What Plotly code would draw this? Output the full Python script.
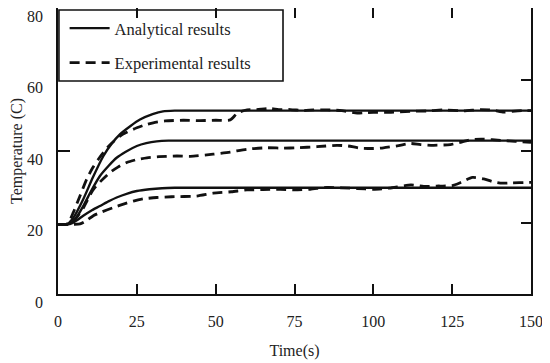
import plotly.graph_objects as go

# ---- data ----
t_an_top = [0, 3, 5, 8, 11, 14.4, 17, 19.7, 23, 26, 30, 33.3, 37, 150]
T_an_top = [19.5, 19.6, 21.5, 26.5, 32.5, 38.6, 42, 44.7, 47, 48.8, 50.3, 51.1, 51.3, 51.3]

t_an_mid = [0, 3.5, 5.5, 8, 10.5, 13.3, 16, 18.6, 21.5, 25, 28, 31.3, 35, 150]
T_an_mid = [19.5, 19.6, 21, 24.6, 28.8, 33, 35.8, 38.1, 39.8, 41.4, 42.2, 42.7, 42.9, 42.9]

t_an_bot = [0, 4, 6, 8, 10.5, 13.3, 16, 18.6, 22, 25, 29, 33, 37, 150]
T_an_bot = [19.5, 19.6, 20.6, 21.9, 23.3, 24.6, 25.9, 27, 28.1, 28.8, 29.3, 29.6, 29.7, 29.7]

t_ex_top = [0, 3, 4.9, 7, 9.1, 11, 12.8, 16, 19.7, 22, 25, 28, 30.2, 34, 39.7, 45, 50, 54.6,
            57, 60, 63, 67.3, 70, 73.7, 77.9, 81, 85.3, 90, 94.9, 97, 100, 105, 111.7, 117,
            122.3, 128.7, 134, 138, 141.4, 144, 147.7, 150]
T_ex_top = [19.5, 19.6, 22.9, 27.5, 32.1, 35.3, 37.7, 41.3, 44.2, 45.3, 46.5, 47.4, 47.9, 48.4,
            48.6, 48.5, 48.6, 48.7, 50.7, 51.5, 51.6, 51.9, 51.6, 51.6, 51.3, 51.5, 51.5, 51.3,
            50.6, 50.7, 50.8, 50.8, 51.1, 51.2, 51.5, 51.2, 51.6, 51.4, 50.9, 51.1, 51.3, 51.3]

t_ex_mid = [0, 4, 6, 8, 11, 13.5, 16.5, 19, 21.8, 25, 28.2, 32, 37.7, 42, 49.2, 54.6, 59.9,
            66.3, 71.4, 75.8, 82.1, 88.5, 92, 95.9, 100, 103.2, 108, 111.7, 115, 119, 124.4,
            128, 131, 135, 140.3, 145, 150]
T_ex_mid = [19.5, 19.7, 21.5, 24, 29, 31.5, 34, 35.5, 36.8, 37.6, 38.1, 38.4, 38.6, 38.5, 39.1,
            39.7, 40.5, 40.9, 40.8, 40.9, 41.2, 41.6, 41.4, 40.8, 40.7, 40.9, 41.5, 42.1, 41.8,
            41.6, 41.8, 42.5, 43.2, 43.3, 43, 42.7, 42.4]

t_ex_bot = [0, 5, 7, 9, 11.2, 14, 17.6, 21, 23.9, 27, 31.3, 36, 44, 49.2, 55, 59.9, 65, 70.5,
            75, 80, 85.3, 90, 95, 100, 105, 111.9, 116, 120, 125, 128, 131.4, 135, 138, 140.9,
            144, 148.6, 150]
T_ex_bot = [19.5, 19.5, 19.6, 20.5, 21.9, 23, 24.2, 25.2, 26, 26.6, 27, 27.2, 27.4, 28.2, 28.6,
            29.1, 29.2, 29.3, 29.1, 29.3, 29.8, 29.7, 29.5, 29.3, 29.6, 30.5, 30.1, 30.2, 30.3,
            31.3, 32.6, 32.2, 31.4, 31, 31.1, 31.2, 31.2]

x_ticks = [0, 25, 50, 75, 100, 125, 150]
y_ticks = [0, 20, 40, 60, 80]
y_ticks_right = [20, 40, 60]
y_ticks_left = [40]

FONT = "Liberation Serif, Times New Roman, serif"
INK = "#111111"
TXT = "#222222"

fig = go.Figure()

solid = dict(color=INK, width=2.4)
dashed = dict(color=INK, width=2.8, dash="10px,6px")

series = [
    (t_an_top, T_an_top, "Analytical results", solid, "a", True),
    (t_an_mid, T_an_mid, "Analytical results", solid, "a", False),
    (t_an_bot, T_an_bot, "Analytical results", solid, "a", False),
    (t_ex_top, T_ex_top, "Experimental results", dashed, "e", True),
    (t_ex_mid, T_ex_mid, "Experimental results", dashed, "e", False),
    (t_ex_bot, T_ex_bot, "Experimental results", dashed, "e", False),
]
for xs, ys, name, ln, grp, show in series:
    fig.add_trace(go.Scatter(x=xs, y=ys, mode="lines", name=name,
                             line=dict(ln, shape="spline", smoothing=0.6),
                             legendgroup=grp, showlegend=show))

# empty helper traces so the tick-only overlay axes are drawn
fig.add_trace(go.Scatter(x=[], y=[], yaxis="y2", showlegend=False, hoverinfo="skip"))
fig.add_trace(go.Scatter(x=[], y=[], yaxis="y3", showlegend=False, hoverinfo="skip"))

fig.update_layout(
    width=550, height=363,
    # page body has an 8px default margin; margins compensate for it
    margin=dict(l=50, r=27, t=0, b=77),
    paper_bgcolor="white", plot_bgcolor="white",
    font=dict(family=FONT, size=16, color=TXT),
    xaxis=dict(
        range=[0, 150], tickvals=x_ticks,
        showline=True, linecolor=INK, linewidth=1.6, mirror="ticks",
        ticks="inside", ticklen=10, tickwidth=1.6, tickcolor=INK,
        showgrid=False, zeroline=False, automargin=False,
        tickfont=dict(family=FONT, size=16, color=TXT), ticklabelstandoff=12,
        title=dict(text="Time(s)", font=dict(family=FONT, size=16, color=TXT), standoff=16),
    ),
    yaxis=dict(
        range=[0, 80], tickvals=y_ticks,
        showline=True, linecolor=INK, linewidth=1.6, mirror=True,
        ticks="", showgrid=False, zeroline=False, automargin=False,
        tickfont=dict(family=FONT, size=16, color=TXT), ticklabelstandoff=10,
        ticklabelshift=8, ticklabeloverflow="allow",
        title=dict(text="Temperature (C)", font=dict(family=FONT, size=16, color=TXT), standoff=6),
    ),
    yaxis2=dict(
        range=[0, 80], overlaying="y", side="right", tickvals=y_ticks_right,
        ticks="inside", ticklen=10, tickwidth=1.6, tickcolor=INK,
        showticklabels=False, showline=False, showgrid=False, zeroline=False, automargin=False,
    ),
    yaxis3=dict(
        range=[0, 80], overlaying="y", side="left", tickvals=y_ticks_left,
        ticks="inside", ticklen=12, tickwidth=1.6, tickcolor=INK,
        showticklabels=False, showline=False, showgrid=False, zeroline=False, automargin=False,
    ),
    legend=dict(x=0.014, y=0.99, xanchor="left", yanchor="top", bgcolor="rgba(0,0,0,0)",
                borderwidth=0, itemwidth=40, traceorder="grouped", tracegroupgap=10,
                font=dict(family=FONT, size=16.5, color=TXT)),
    shapes=[dict(type="rect", xref="paper", yref="paper", x0=0.002, x1=0.4757, y0=0.745, y1=0.993,
                 line=dict(color=INK, width=1.6), fillcolor="rgba(0,0,0,0)")],
)

fig.write_html("out.html")
